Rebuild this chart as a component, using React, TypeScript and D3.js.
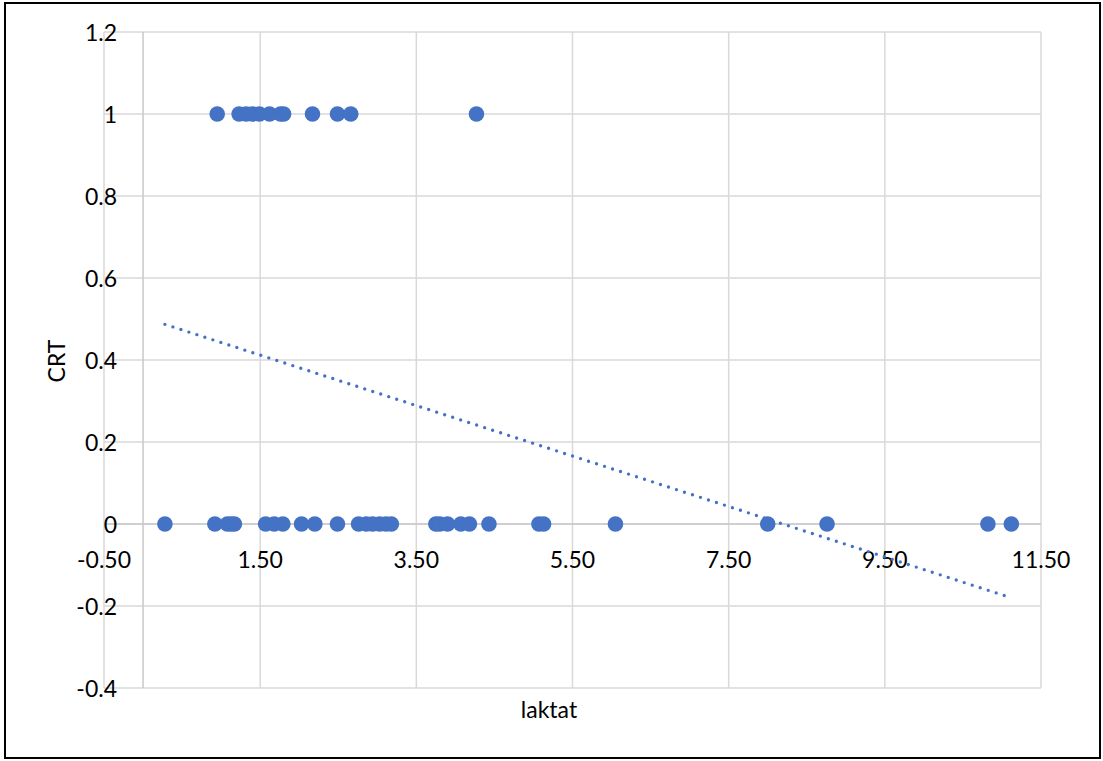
import React from "react";
import * as d3 from "d3";

const crtOneLaktat = [0.95, 1.23, 1.32, 1.4, 1.49, 1.62, 1.76, 1.8, 2.17, 2.49, 2.66, 4.27];
const crtZeroLaktat = [
  0.28, 0.92, 1.08, 1.13, 1.17, 1.57, 1.68, 1.79, 2.03, 2.2, 2.49, 2.76, 2.86, 2.94,
  3.03, 3.11, 3.18, 3.75, 3.8, 3.9, 4.07, 4.18, 4.43, 5.07, 5.13, 6.05, 8.0, 8.76,
  10.82, 11.12,
];
const xTicks = [-0.5, 1.5, 3.5, 5.5, 7.5, 9.5, 11.5];
const yTicks = [-0.4, -0.2, 0, 0.2, 0.4, 0.6, 0.8, 1, 1.2];
// linear trendline
const trendStart = { x: 0.28, y: 0.487 };
const trendEnd = { x: 11.12, y: -0.18 };

const W = 1103;
const H = 761;
const FONT = "Lato, 'Open Sans', sans-serif";

const hyphen = (s: string) => s.replace("\u2212", "-");

export default function App() {
  const x = d3.scaleLinear().domain([-0.5, 11.5]).range([104, 1041]);
  const y = d3.scaleLinear().domain([-0.4, 1.2]).range([688, 32]);
  const points = [
    ...crtZeroLaktat.map((v) => ({ x: v, y: 0 })),
    ...crtOneLaktat.map((v) => ({ x: v, y: 1 })),
  ];
  const line = d3
    .line<{ x: number; y: number }>()
    .x((d) => x(d.x))
    .y((d) => y(d.y));
  const yLabelFmt = (v: number) =>
    v === 0 ? "0" : v === 1 ? "1" : hyphen(d3.format(".1f")(v));

  return (
    <svg
      width={W}
      height={H}
      style={{ position: "absolute", left: 0, top: 0, background: "#fff" }}
      fontFamily={FONT}
    >
      <rect x={0} y={0} width={W} height={H} fill="#fff" />
      <rect x={5} y={3} width={1095} height={755} fill="none" stroke="#000" strokeWidth={2} />
      {/* gridlines */}
      {xTicks.map((t) => (
        <line key={"gx" + t} x1={x(t)} x2={x(t)} y1={y(1.2)} y2={y(-0.4)} stroke="#d9d9d9" strokeWidth={1.5} />
      ))}
      {yTicks.map((t) => (
        <line key={"gy" + t} x1={x(-0.5)} x2={x(11.5)} y1={y(t)} y2={y(t)} stroke="#d9d9d9" strokeWidth={1.5} />
      ))}
      {/* axes */}
      <line x1={x(0)} x2={x(0)} y1={y(1.2)} y2={y(-0.4)} stroke="#c8c8c8" strokeWidth={1.5} />
      <line x1={x(-0.5)} x2={x(11.5)} y1={y(0)} y2={y(0)} stroke="#c8c8c8" strokeWidth={1.5} />
      {/* y tick labels */}
      {yTicks.map((t) => (
        <text
          key={"ly" + t}
          x={117}
          y={y(t)}
          textAnchor="end"
          dominantBaseline="central"
          fontSize={23}
          fill="#000"
        >
          {yLabelFmt(t)}
        </text>
      ))}
      {/* x tick labels */}
      {xTicks.map((t) => (
        <text
          key={"lx" + t}
          x={x(t)}
          y={559}
          textAnchor="middle"
          dominantBaseline="central"
          fontSize={23}
          fill="#000"
        >
          {hyphen(d3.format(".2f")(t))}
        </text>
      ))}
      {/* points */}
      {points.map((p, i) => (
        <circle key={i} cx={x(p.x)} cy={y(p.y)} r={7.8} fill="#4472C4" />
      ))}
      {/* trendline */}
      <path
        d={line([trendStart, trendEnd]) || ""}
        fill="none"
        stroke="#4472C4"
        strokeWidth={3.4}
        strokeDasharray="0 8.4"
        strokeLinecap="round"
      />
      {/* axis titles */}
      <text x={549} y={709} textAnchor="middle" dominantBaseline="central" fontSize={23} fill="#000">
        laktat
      </text>
      <text
        transform={`translate(56,361) rotate(-90)`}
        textAnchor="middle"
        dominantBaseline="central"
        fontSize={23}
        fill="#000"
      >
        CRT
      </text>
    </svg>
  );
}
